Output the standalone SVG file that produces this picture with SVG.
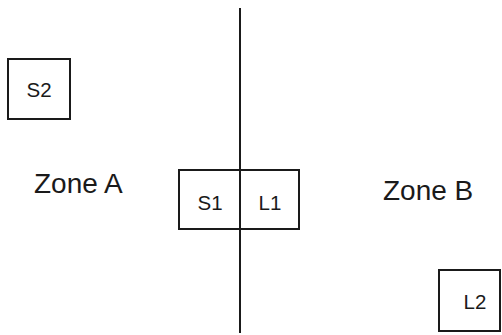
<svg xmlns="http://www.w3.org/2000/svg" width="502" height="335" viewBox="0 0 502 335">
<style>
.box{fill:#fff;stroke:#1a1a1a;stroke-width:2}
.ln{stroke:#1a1a1a;stroke-width:2;fill:none}
.t{font-family:"Liberation Sans",Arial,sans-serif;font-size:20.5px;fill:#1a1a1a}
.z{font-family:"Liberation Sans",Arial,sans-serif;font-size:28px;fill:#1a1a1a}
</style>
<rect width="502" height="335" fill="#fff"/>
<g id="zoneA"><text class="z" x="34" y="193">Zone A</text></g>
<g id="zoneB"><text class="z" x="383" y="200">Zone B</text></g>
<g id="S2"><rect class="box" x="8" y="59" width="62" height="60"/><text class="t" x="39" y="97" text-anchor="middle">S2</text></g>
<g id="S1"><rect class="box" x="179" y="170" width="61" height="59"/><text class="t" x="210" y="210" text-anchor="middle">S1</text></g>
<g id="L1"><rect class="box" x="240" y="170" width="59" height="59"/><text class="t" x="270" y="210" text-anchor="middle">L1</text></g>
<g id="L2"><rect class="box" x="439" y="270" width="61" height="61"/><text class="t" x="475" y="309" text-anchor="middle">L2</text></g>
<g id="connectors"><line class="ln" x1="240" y1="8" x2="240" y2="333"/></g>
</svg>
